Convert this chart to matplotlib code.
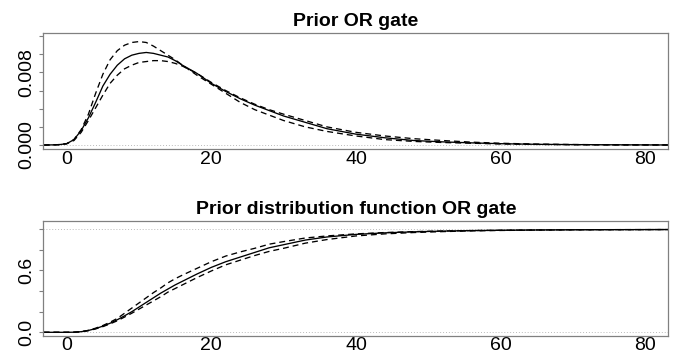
import numpy as np
import matplotlib.pyplot as plt

plt.rcParams['font.family'] = ['Liberation Sans', 'DejaVu Sans']

# x grid (shared by all curves)
x = [-3.2, -2, -1, 0, 1, 2, 3, 4, 5, 6, 7, 8, 9, 10, 11, 12, 13, 14, 15, 16,
     18, 20, 22, 24, 26, 28, 30, 33, 36, 40, 44, 48, 52, 56, 60, 65, 70, 75, 83.2]

# prior density: mean and the two dashed bounds
dens_mid = [0, 0.00002, 0.00005, 0.00015, 0.0006, 0.0016, 0.0030, 0.0047, 0.0065,
            0.0078, 0.0088, 0.0095, 0.0099, 0.0101, 0.0102, 0.0101, 0.0099, 0.0097,
            0.0093, 0.0088, 0.0079, 0.0068, 0.0059, 0.0051, 0.0044, 0.0038, 0.0032,
            0.0025, 0.0018, 0.0012, 0.0008, 0.0005, 0.00035, 0.00024, 0.00015,
            0.00008, 0.00005, 0.00003, 0.00001]
dens_hi = [0, 0.00002, 0.00005, 0.00015, 0.0006, 0.0017, 0.0034, 0.0057, 0.0078,
           0.0094, 0.0104, 0.0110, 0.0113, 0.0114, 0.0113, 0.0109, 0.0104, 0.0099,
           0.0094, 0.0088, 0.0077, 0.0067, 0.0057, 0.0047, 0.0039, 0.0033, 0.0027,
           0.0020, 0.0015, 0.0010, 0.0006, 0.0004, 0.00028, 0.0002, 0.00012,
           0.00007, 0.00004, 0.00002, 0.00001]
dens_lo = [0, 0.00002, 0.00005, 0.00015, 0.0005, 0.0014, 0.0027, 0.0041, 0.0055,
           0.0068, 0.0077, 0.0084, 0.0088, 0.0091, 0.0092, 0.0093, 0.0093, 0.0092,
           0.0090, 0.0087, 0.0079, 0.0069, 0.0060, 0.0052, 0.0045, 0.0039, 0.0034,
           0.0027, 0.0020, 0.0014, 0.0010, 0.0007, 0.0005, 0.00032, 0.0002,
           0.0001, 0.00006, 0.00003, 0.00001]

# prior distribution function
cdf_mid = [0, 0, 0, 0, 0.001, 0.006, 0.018, 0.036, 0.060, 0.088, 0.122, 0.16, 0.20,
           0.245, 0.29, 0.335, 0.38, 0.42, 0.46, 0.495, 0.565, 0.63, 0.685, 0.73,
           0.775, 0.82, 0.85, 0.895, 0.925, 0.95, 0.965, 0.975, 0.982, 0.987, 0.99,
           0.993, 0.995, 0.996, 0.997]
cdf_hi = [0, 0, 0, 0, 0.001, 0.006, 0.019, 0.040, 0.066, 0.098, 0.135, 0.185, 0.235,
          0.285, 0.335, 0.385, 0.43, 0.48, 0.52, 0.555, 0.62, 0.685, 0.74, 0.78,
          0.815, 0.855, 0.88, 0.915, 0.935, 0.955, 0.968, 0.977, 0.983, 0.987, 0.99,
          0.993, 0.995, 0.996, 0.997]
cdf_lo = [0, 0, 0, 0, 0.001, 0.005, 0.016, 0.033, 0.055, 0.082, 0.112, 0.148, 0.185,
          0.225, 0.265, 0.305, 0.345, 0.39, 0.425, 0.46, 0.53, 0.595, 0.655, 0.70,
          0.745, 0.785, 0.815, 0.865, 0.90, 0.935, 0.955, 0.968, 0.977, 0.984, 0.988,
          0.992, 0.994, 0.995, 0.997]

xticks = [0, 20, 40, 60, 80]
dens_ticks = [0, 0.002, 0.004, 0.006, 0.008, 0.010, 0.012]
dens_labels = ['0.000', '', '', '', '0.008', '', '']
cdf_ticks = [0, 0.2, 0.4, 0.6, 0.8, 1.0]
cdf_labels = ['0.0', '', '', '0.6', '', '']

fig = plt.figure(figsize=(6.86, 3.54), dpi=100)
ax1 = fig.add_axes([0.0631, 0.5782, 0.9111, 0.3277])
ax2 = fig.add_axes([0.0631, 0.0508, 0.9111, 0.3258])

dash = (0, (4.5, 3))
lw = 0.95

ax1.axhline(0, color='#bbbbbb', lw=0.7, ls=(0, (1, 2)))
ax1.plot(x, dens_mid, color='black', lw=lw)
ax1.plot(x, dens_hi, color='black', lw=lw, ls=dash)
ax1.plot(x, dens_lo, color='black', lw=lw, ls=dash)
ax1.set_ylim(-0.00047, 0.01231)
ax1.set_yticks(dens_ticks)
ax1.set_yticklabels(dens_labels)
ax1.set_title('Prior OR gate', fontsize=14, fontweight='bold', pad=5)

for h in (0, 1):
    ax2.axhline(h, color='#bbbbbb', lw=0.7, ls=(0, (1, 2)))
ax2.plot(x, cdf_mid, color='black', lw=lw)
ax2.plot(x, cdf_hi, color='black', lw=lw, ls=dash)
ax2.plot(x, cdf_lo, color='black', lw=lw, ls=dash)
ax2.set_ylim(-0.036, 1.083)
ax2.set_yticks(cdf_ticks)
ax2.set_yticklabels(cdf_labels)
ax2.set_title('Prior distribution function OR gate', fontsize=14, fontweight='bold', pad=5)

for ax in (ax1, ax2):
    ax.set_xlim(-3.24, 83.2)
    ax.set_xticks(xticks)
    ax.tick_params(axis='x', length=0, pad=1, labelsize=14)
    ax.tick_params(axis='y', length=3, width=0.8, color='#808080', pad=3, labelsize=14)
    for lab in ax.get_yticklabels():
        lab.set_rotation(90)
        lab.set_va('center')
    for s in ax.spines.values():
        s.set_color('#808080')
        s.set_linewidth(0.9)

fig.savefig('out.png', dpi=100)
